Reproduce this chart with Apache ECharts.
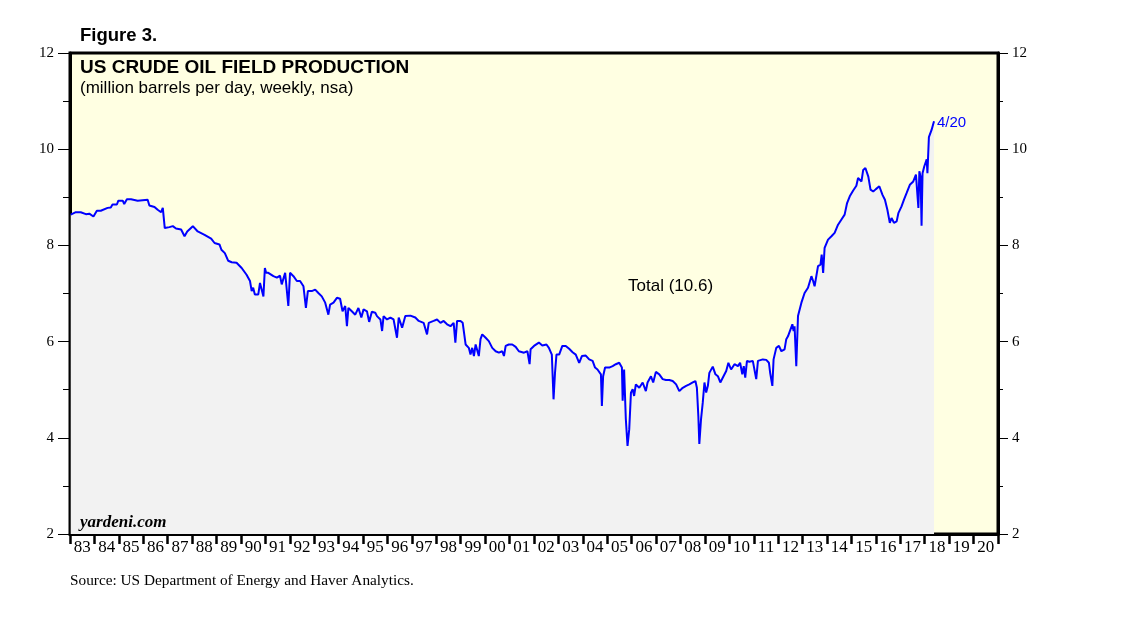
<!DOCTYPE html>
<html>
<head>
<meta charset="utf-8">
<script src="https://cdn.jsdelivr.net/npm/echarts@6/dist/echarts.min.js"></script>
<style>
html,body{margin:0;padding:0;background:#fff;}
#chart{width:1138px;height:621px;}
</style>
</head>
<body>
<div id="chart"></div>
<script>
// Decimal-year dates of sampled weekly readings
const weekDates = [
  1983.03, 1983.24, 1983.44, 1983.65, 1983.79, 1983.96, 1984.10, 1984.26, 1984.33, 1984.54,
  1984.67, 1984.74, 1984.92, 1984.98, 1985.16, 1985.22, 1985.33, 1985.50, 1985.57, 1985.77,
  1985.81, 1986.18, 1986.25, 1986.46, 1986.59, 1986.73, 1986.80, 1986.87, 1986.88, 1987.07,
  1987.21, 1987.34, 1987.55, 1987.69, 1987.80, 1988.03, 1988.23, 1988.51, 1988.78, 1988.92,
  1989.12, 1989.20, 1989.34, 1989.48, 1989.62, 1989.82, 1990.03, 1990.23, 1990.37, 1990.44,
  1990.50, 1990.57, 1990.71, 1990.78, 1990.85, 1990.92, 1990.98, 1991.03, 1991.12, 1991.19,
  1991.33, 1991.47, 1991.60, 1991.67, 1991.81, 1991.88, 1991.94, 1992.01, 1992.15, 1992.29,
  1992.42, 1992.56, 1992.66, 1992.74, 1992.90, 1993.04, 1993.17, 1993.31, 1993.45, 1993.58,
  1993.65, 1993.79, 1993.93, 1994.06, 1994.16, 1994.27, 1994.34, 1994.40, 1994.54, 1994.68,
  1994.81, 1994.93, 1995.02, 1995.16, 1995.25, 1995.36, 1995.50, 1995.57, 1995.71, 1995.78,
  1995.84, 1995.98, 1996.12, 1996.25, 1996.39, 1996.46, 1996.60, 1996.73, 1996.94, 1997.14,
  1997.28, 1997.48, 1997.62, 1997.69, 1997.89, 1998.03, 1998.17, 1998.30, 1998.44, 1998.58,
  1998.71, 1998.78, 1998.85, 1998.99, 1999.08, 1999.20, 1999.33, 1999.40, 1999.47, 1999.54,
  1999.61, 1999.74, 1999.81, 1999.88, 2000.02, 2000.15, 2000.29, 2000.43, 2000.56, 2000.70,
  2000.77, 2000.84, 2000.97, 2001.11, 2001.25, 2001.38, 2001.45, 2001.59, 2001.73, 2001.82,
  2001.86, 2002.00, 2002.20, 2002.34, 2002.51, 2002.61, 2002.73, 2002.80, 2002.86, 2002.92,
  2003.03, 2003.16, 2003.30, 2003.44, 2003.58, 2003.71, 2003.85, 2003.96, 2004.12, 2004.26,
  2004.40, 2004.50, 2004.60, 2004.74, 2004.78, 2004.83, 2004.91, 2005.08, 2005.22, 2005.35,
  2005.49, 2005.60, 2005.63, 2005.69, 2005.76, 2005.83, 2005.90, 2005.97, 2006.04, 2006.10,
  2006.17, 2006.31, 2006.45, 2006.58, 2006.65, 2006.72, 2006.79, 2006.88, 2006.99, 2007.13,
  2007.27, 2007.40, 2007.54, 2007.68, 2007.82, 2007.95, 2008.09, 2008.23, 2008.36, 2008.50,
  2008.61, 2008.67, 2008.73, 2008.77, 2008.84, 2008.91, 2008.98, 2009.05, 2009.12, 2009.18,
  2009.32, 2009.43, 2009.53, 2009.63, 2009.76, 2009.87, 2009.96, 2010.07, 2010.21, 2010.35,
  2010.44, 2010.53, 2010.59, 2010.65, 2010.72, 2010.82, 2010.96, 2011.03, 2011.10, 2011.17,
  2011.37, 2011.51, 2011.62, 2011.67, 2011.76, 2011.81, 2011.92, 2012.03, 2012.13, 2012.26,
  2012.33, 2012.40, 2012.50, 2012.58, 2012.63, 2012.67, 2012.74, 2012.81, 2012.95, 2013.08,
  2013.22, 2013.36, 2013.43, 2013.49, 2013.63, 2013.73, 2013.78, 2013.84, 2013.90, 2014.04,
  2014.18, 2014.31, 2014.45, 2014.59, 2014.72, 2014.82, 2014.93, 2015.07, 2015.20, 2015.27,
  2015.41, 2015.48, 2015.57, 2015.69, 2015.78, 2015.89, 2016.00, 2016.14, 2016.27, 2016.37,
  2016.47, 2016.57, 2016.64, 2016.74, 2016.85, 2016.92, 2017.05, 2017.15, 2017.26, 2017.39,
  2017.53, 2017.64, 2017.70, 2017.74, 2017.78, 2017.83, 2017.87, 2017.91, 2017.98, 2018.08,
  2018.11, 2018.17, 2018.28, 2018.38
];
// US crude oil field production, million barrels per day
const production = [
  8.64, 8.69, 8.69, 8.65, 8.66, 8.60, 8.72, 8.72, 8.76, 8.78,
  8.79, 8.85, 8.85, 8.93, 8.93, 8.86, 8.96, 8.96, 8.92, 8.93,
  8.95, 8.95, 8.83, 8.80, 8.74, 8.69, 8.78, 8.78, 8.36, 8.38,
  8.40, 8.35, 8.33, 8.19, 8.29, 8.40, 8.29, 8.22, 8.14, 8.05,
  8.02, 7.91, 7.84, 7.68, 7.65, 7.64, 7.53, 7.39, 7.26, 7.05,
  7.12, 6.98, 6.98, 7.22, 7.26, 6.94, 7.53, 7.43, 7.43, 7.39,
  7.36, 7.33, 7.37, 7.19, 7.43, 7.39, 6.74, 7.43, 7.36, 7.26,
  7.26, 7.15, 6.70, 7.05, 7.05, 7.08, 7.01, 6.94, 6.81, 6.56,
  6.77, 6.81, 6.91, 6.89, 6.63, 6.74, 6.32, 6.70, 6.63, 6.56,
  6.70, 6.50, 6.67, 6.63, 6.41, 6.62, 6.60, 6.53, 6.46, 6.22,
  6.53, 6.46, 6.50, 6.46, 6.08, 6.50, 6.29, 6.53, 6.54, 6.50,
  6.43, 6.39, 6.15, 6.39, 6.43, 6.46, 6.39, 6.43, 6.36, 6.32,
  6.39, 5.98, 6.43, 6.43, 6.39, 5.94, 5.87, 5.73, 5.87, 5.70,
  5.94, 5.70, 6.05, 6.15, 6.08, 6.01, 5.87, 5.80, 5.77, 5.80,
  5.70, 5.91, 5.94, 5.94, 5.89, 5.80, 5.80, 5.77, 5.80, 5.53,
  5.84, 5.91, 5.98, 5.92, 5.94, 5.87, 5.73, 4.80, 5.35, 5.73,
  5.73, 5.91, 5.91, 5.85, 5.78, 5.73, 5.56, 5.70, 5.71, 5.63,
  5.60, 5.46, 5.42, 5.32, 4.66, 5.28, 5.46, 5.46, 5.49, 5.53,
  5.56, 5.46, 4.77, 5.42, 4.39, 3.83, 4.18, 4.94, 5.01, 4.87,
  5.11, 5.04, 5.15, 4.97, 5.15, 5.15, 5.28, 5.15, 5.37, 5.32,
  5.22, 5.20, 5.20, 5.18, 5.11, 4.97, 5.04, 5.08, 5.11, 5.15,
  5.18, 5.04, 4.45, 3.87, 4.39, 4.73, 5.15, 4.94, 5.08, 5.35,
  5.48, 5.32, 5.28, 5.15, 5.28, 5.39, 5.56, 5.42, 5.53, 5.49,
  5.56, 5.32, 5.49, 5.25, 5.60, 5.58, 5.60, 5.61, 5.22, 5.60,
  5.63, 5.62, 5.56, 5.35, 5.08, 5.63, 5.87, 5.91, 5.80, 5.84,
  6.05, 6.11, 6.25, 6.36, 6.22, 6.32, 5.49, 6.53, 6.81, 7.01,
  7.12, 7.36, 7.26, 7.15, 7.57, 7.60, 7.81, 7.43, 7.95, 8.12,
  8.19, 8.26, 8.43, 8.54, 8.64, 8.88, 9.02, 9.14, 9.24, 9.40,
  9.33, 9.57, 9.61, 9.43, 9.16, 9.12, 9.17, 9.23, 9.05, 8.95,
  8.74, 8.47, 8.57, 8.47, 8.50, 8.67, 8.81, 8.95, 9.09, 9.26,
  9.33, 9.47, 9.43, 8.78, 9.54, 9.43, 8.41, 9.50, 9.64, 9.79,
  9.50, 10.25, 10.40, 10.58
];
// Year tick labels on the time axis
const yearLabels = ['83','84','85','86','87','88','89','90','91','92','93','94','95','96','97','98','99',
  '00','01','02','03','04','05','06','07','08','09','10','11','12','13','14','15','16','17','18','19','20'];
const seriesName = 'Total (10.6)';
const lastLabel = '4/20';

const seriesData = weekDates.map((d, i) => [d, production[i]]);

const chart = echarts.init(document.getElementById('chart'));
const serif = 'Liberation Serif, Times New Roman, serif';
const sans = 'Liberation Sans, Arial, sans-serif';

function yAxisCfg(pos, tickLen, minorLen, margin) {
  return {
    type: 'value', min: 2, max: 12, interval: 2, position: pos,
    axisLine: { show: true, onZero: false, lineStyle: { color: '#000', width: 3 } },
    axisTick: { show: true, length: tickLen, lineStyle: { color: '#000', width: 1 } },
    minorTick: { show: true, splitNumber: 2, length: minorLen, lineStyle: { color: '#000', width: 1 } },
    splitLine: { show: false },
    axisLabel: { margin: margin, fontFamily: serif, fontSize: 15, color: '#000' }
  };
}

chart.setOption({
  animation: false,
  backgroundColor: '#ffffff',
  grid: {
    left: 70, right: 140, top: 53, bottom: 87,
    show: true, backgroundColor: '#FFFFE2', borderColor: '#000', borderWidth: 3
  },
  xAxis: [
    { type: 'value', min: 1983, max: 2021, show: false },
    {
      type: 'category', data: yearLabels, boundaryGap: true, position: 'bottom',
      axisLine: { show: true, lineStyle: { color: '#000', width: 3 } },
      axisTick: { show: true, interval: 0, length: 10, lineStyle: { color: '#000', width: 2.5 } },
      axisLabel: { interval: 0, margin: 5, fontFamily: serif, fontSize: 17, color: '#000' },
      splitLine: { show: false }
    }
  ],
  yAxis: [
    yAxisCfg('left', 12, 7, 16),
    yAxisCfg('right', 10, 5, 14)
  ],
  series: [{
    name: seriesName,
    type: 'line',
    xAxisIndex: 0, yAxisIndex: 0,
    data: seriesData,
    symbol: 'none',
    lineStyle: { color: '#0000FF', width: 2 },
    areaStyle: { color: '#F2F2F2', opacity: 1, origin: 'start' },
    z: 1
  }],
  graphic: [
    { type: 'text', z: 100, left: 80, top: 26, style: { text: 'Figure 3.', font: 'bold 18.5px ' + sans, fill: '#000' } },
    { type: 'text', z: 100, left: 80, top: 58, style: { text: 'US CRUDE OIL FIELD PRODUCTION', font: 'bold 19px ' + sans, fill: '#000' } },
    { type: 'text', z: 100, left: 80, top: 80, style: { text: '(million barrels per day, weekly, nsa)', font: '17px ' + sans, fill: '#000' } },
    { type: 'text', z: 100, left: 628, top: 278, style: { text: seriesName, font: '17px ' + sans, fill: '#000' } },
    { type: 'text', z: 100, left: 937, top: 115, style: { text: lastLabel, font: '15px ' + sans, fill: '#0000FF' } },
    { type: 'text', z: 100, left: 80, top: 514, style: { text: 'yardeni.com', font: 'italic bold 17px ' + serif, fill: '#000' } },
    { type: 'text', z: 100, left: 70, top: 573, style: { text: 'Source: US Department of Energy and Haver Analytics.', font: '15.3px ' + serif, fill: '#000' } }
  ]
});
</script>
</body>
</html>
